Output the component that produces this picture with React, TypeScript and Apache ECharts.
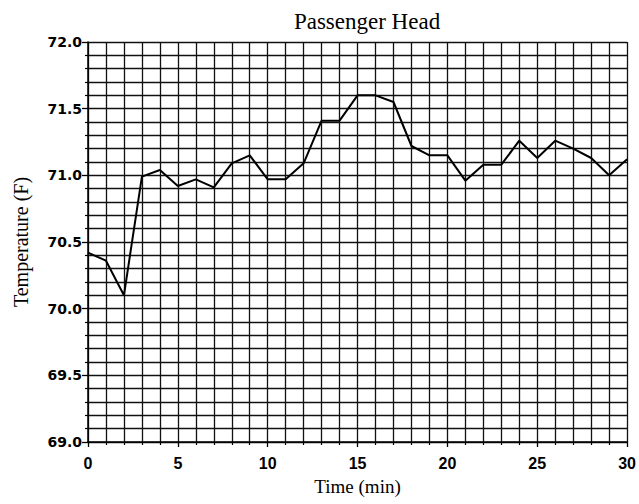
import React, { useEffect, useRef } from "react";
import * as echarts from "echarts";

const timeMin = [0, 1, 2, 3, 4, 5, 6, 7, 8, 9, 10, 11, 12, 13, 14, 15, 16, 17, 18, 19, 20, 21, 22, 23, 24, 25, 26, 27, 28, 29, 30];
const tempF = [70.42, 70.36, 70.1, 70.99, 71.04, 70.92, 70.97, 70.91, 71.09, 71.15, 70.97, 70.97, 71.09, 71.41, 71.41, 71.6, 71.6, 71.55, 71.22, 71.15, 71.15, 70.96, 71.08, 71.08, 71.26, 71.13, 71.26, 71.2, 71.13, 71.0, 71.12];

const titleText = "Passenger Head";
const xName = "Time (min)";
const yName = "Temperature (F)";

export default function App() {
  const ref = useRef<HTMLDivElement>(null);
  useEffect(() => {
    if (!ref.current) return;
    const chart = echarts.init(ref.current, null, { renderer: "svg" });
    const data = timeMin.map((t, i) => [t, tempF[i]]);
    const gridLine = { show: true, lineStyle: { color: "#111", width: 1.3 } };
    chart.setOption({
      animation: false,
      backgroundColor: "#fff",
      title: {
        text: titleText,
        left: 362,
        top: 5,
        textAlign: "center",
        textStyle: { fontFamily: "Liberation Serif", fontSize: 23, fontWeight: "normal", color: "#000" },
      },
      grid: { left: 88, right: 9, top: 42, bottom: 62 },
      xAxis: {
        type: "value",
        min: 0,
        max: 30,
        interval: 5,
        name: xName,
        nameLocation: "middle",
        nameGap: 35,
        nameTextStyle: { fontFamily: "Liberation Serif", fontSize: 19, color: "#000" },
        axisLine: { show: true, onZero: false, lineStyle: { color: "#000", width: 1.5 } },
        axisTick: { show: true, length: 5, lineStyle: { color: "#000", width: 1.3 } },
        minorTick: { show: true, splitNumber: 5, length: 3, lineStyle: { color: "#000", width: 1.2 } },
        axisLabel: { fontFamily: "Liberation Sans", fontSize: 16, fontWeight: "bold", color: "#000", margin: 13 },
        splitLine: gridLine,
        minorSplitLine: gridLine,
      },
      yAxis: {
        type: "value",
        min: 69,
        max: 72,
        interval: 0.5,
        name: yName,
        nameLocation: "middle",
        nameGap: 57,
        nameTextStyle: { fontFamily: "Liberation Serif", fontSize: 20, color: "#000" },
        axisLine: { show: true, lineStyle: { color: "#000", width: 1.5 } },
        axisTick: { show: true, length: 6, lineStyle: { color: "#000", width: 1.3 } },
        minorTick: { show: true, splitNumber: 5, length: 3, lineStyle: { color: "#000", width: 1.2 } },
        axisLabel: {
          fontFamily: "DejaVu Sans",
          fontSize: 14,
          fontWeight: "bold",
          color: "#000",
          margin: 6,
          formatter: (v: number) => v.toFixed(1),
        },
        splitLine: gridLine,
        minorSplitLine: gridLine,
      },
      series: [
        {
          type: "line",
          data,
          symbol: "none",
          lineStyle: { color: "#000", width: 2 },
        },
      ],
    });
    return () => chart.dispose();
  }, []);
  return <div ref={ref} style={{ position: "fixed", left: 0, top: 0, width: 639, height: 504 }} />;
}
